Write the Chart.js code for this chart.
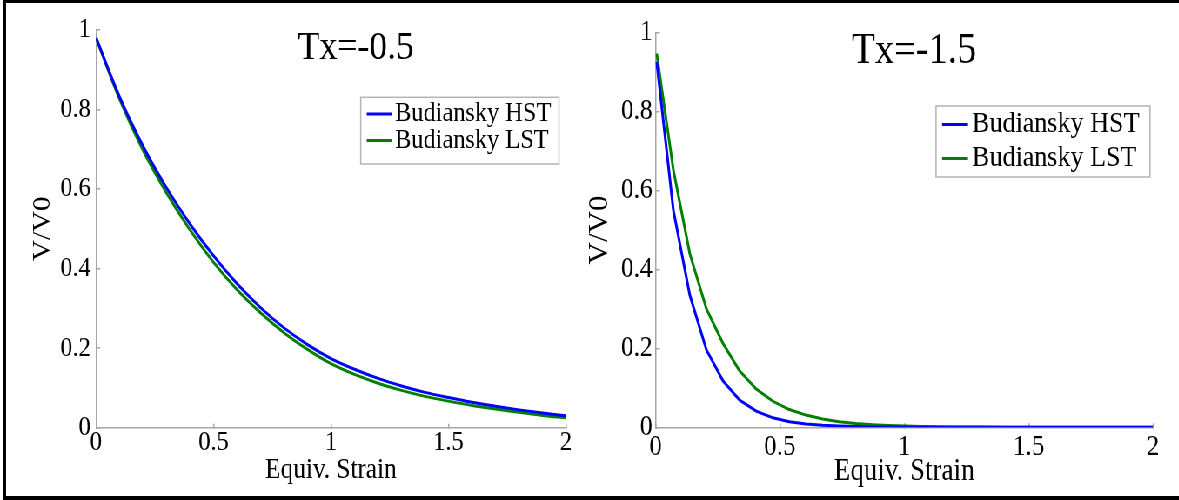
<!DOCTYPE html>
<html>
<head>
<meta charset="utf-8">
<script src="https://cdn.jsdelivr.net/npm/chart.js@4.4.1/dist/chart.umd.min.js"></script>
<style>
  html, body { margin:0; padding:0; background:#fff; overflow:hidden; width:1179px; height:500px; }
  #frame { position:absolute; left:3px; top:0; width:1200px; height:500px; box-sizing:border-box;
           border-left:3px solid #000; border-top:3px solid #000; border-bottom:4px solid #000; }
  #wrap { position:absolute; left:0; top:0; width:1355px; height:500px; transform:scaleX(0.87); transform-origin:0 0; }
  canvas { position:absolute; top:0; }
</style>
</head>
<body>
<div id="frame"></div>
<div id="wrap">
  <canvas id="c1" width="670" height="500" style="left:0px"></canvas>
  <canvas id="c2" width="685" height="500" style="left:670px"></canvas>
</div>
<script>
// ---------- data ----------
const panelTitles = ['Tx=-0.5', 'Tx=-1.5'];
const seriesLabels = ['Budiansky HST', 'Budiansky LST'];
const xAxisLabel = 'Equiv. Strain';
const yAxisLabel = 'V/V0';
const xTickLabels = ['0', '0.5', '1', '1.5', '2'];
const yTickLabels = ['0', '0.2', '0.4', '0.6', '0.8', '1'];

// left panel (Tx=-0.5)
const leftStrain = [0, 0.1, 0.2, 0.3, 0.4, 0.5, 0.6, 0.7, 0.8, 0.9, 1.0,
                    1.1, 1.2, 1.3, 1.4, 1.5, 1.6, 1.7, 1.8, 1.9, 2.0];
const leftHST = [0.98, 0.832, 0.708, 0.603, 0.512, 0.432, 0.362, 0.302, 0.251, 0.209, 0.174,
                 0.147, 0.124, 0.105, 0.089, 0.076, 0.064, 0.054, 0.045, 0.037, 0.030];
const leftLST = [0.98, 0.826, 0.697, 0.590, 0.497, 0.416, 0.347, 0.289, 0.239, 0.197, 0.161,
                 0.134, 0.112, 0.094, 0.079, 0.067, 0.056, 0.047, 0.039, 0.031, 0.025];

// right panel (Tx=-1.5)
const rightStrain = [0.005, 0.072, 0.138, 0.205, 0.272, 0.338, 0.405, 0.472, 0.538, 0.605,
                     0.672, 0.738, 0.805, 0.872, 0.938, 1.005, 1.072, 1.138, 1.205, 1.272,
                     1.338, 1.405, 1.472, 1.538, 1.605, 1.672, 1.738, 1.805, 1.872, 1.938, 2.0];
const rightHST = [0.926, 0.55, 0.335, 0.196, 0.117, 0.069, 0.041, 0.024, 0.014, 0.0085,
                  0.005, 0.003, 0.0018, 0.001, 0.0006, 0.0004, 0.0002, 0.0001, 0.0001, 0,
                  0, 0, 0, 0, 0, 0, 0, 0, 0, 0, 0];
const rightLST = [0.947, 0.652, 0.44, 0.30, 0.212, 0.143, 0.097, 0.066, 0.045, 0.031,
                  0.021, 0.014, 0.0097, 0.0066, 0.0045, 0.003, 0.002, 0.0014, 0.001, 0.0007,
                  0.0005, 0.0003, 0.0002, 0.0001, 0.0001, 0, 0, 0, 0, 0, 0];

const seriesColors = ['#0000ff', '#008000'];

// ---------- chart setup ----------
Chart.defaults.font.family = "'Liberation Serif', 'Times New Roman', serif";
Chart.defaults.color = '#000';
const axisGray = '#a6a6a6';

const overlayPlugin = {
  id: 'overlay',
  afterDraw(chart, args, o) {
    const ctx = chart.ctx;
    ctx.save();
    // panel title
    ctx.fillStyle = '#000';
    ctx.font = o.titleSize + "px 'Liberation Serif', 'Times New Roman', serif";
    ctx.textAlign = 'center';
    ctx.textBaseline = 'middle';
    ctx.fillText(o.title, o.titleX, o.titleY);
    // legend box
    const L = o.legend;
    ctx.fillStyle = '#fff';
    ctx.fillRect(L.x0, L.y0, L.x1 - L.x0, L.y1 - L.y0);
    ctx.strokeStyle = '#b4b4b4';
    ctx.lineWidth = 1.5;
    ctx.strokeRect(L.x0, L.y0, L.x1 - L.x0, L.y1 - L.y0);
    ctx.font = L.size + "px 'Liberation Serif', 'Times New Roman', serif";
    ctx.textAlign = 'left';
    chart.data.datasets.forEach((ds, i) => {
      const y = L.rows[i];
      ctx.strokeStyle = ds.borderColor;
      ctx.lineWidth = 3;
      ctx.beginPath();
      ctx.moveTo(L.lx0, y);
      ctx.lineTo(L.lx1, y);
      ctx.stroke();
      ctx.fillStyle = '#000';
      ctx.fillText(ds.label, L.tx, y);
    });
    ctx.restore();
  }
};

function makeChart(canvasId, xs, hst, lst, cfg) {
  const toXY = (arr) => xs.map((x, i) => ({x: x, y: arr[i]}));
  return new Chart(document.getElementById(canvasId), {
    type: 'line',
    data: {
      datasets: [
        {label: seriesLabels[0], data: toXY(hst), borderColor: seriesColors[0], backgroundColor: seriesColors[0],
         borderWidth: 3, pointRadius: 0, fill: false, cubicInterpolationMode: cfg.smooth ? 'monotone' : 'default'},
        {label: seriesLabels[1], data: toXY(lst), borderColor: seriesColors[1], backgroundColor: seriesColors[1],
         borderWidth: 3, pointRadius: 0, fill: false, cubicInterpolationMode: cfg.smooth ? 'monotone' : 'default'}
      ]
    },
    options: {
      responsive: false,
      animation: false,
      devicePixelRatio: 1,
      events: [],
      layout: {padding: cfg.padding},
      scales: {
        x: {
          type: 'linear', min: 0, max: 2,
          afterBuildTicks: (s) => { s.ticks = xTickLabels.map(t => ({value: parseFloat(t)})); },
          ticks: {callback: (v, i) => xTickLabels[i], font: {size: cfg.tickSize}, color: '#000',
                  padding: cfg.xTickPad, maxRotation: 0, autoSkip: false},
          grid: {display: true, drawOnChartArea: false, drawTicks: true, tickLength: -4, color: axisGray, lineWidth: 1.5},
          border: {display: true, color: axisGray, width: 1.5},
          title: {display: true, text: xAxisLabel, font: {size: cfg.labelSize}, color: '#000', padding: 0},
          afterFit: (s) => { s.height = cfg.xH; }
        },
        y: {
          type: 'linear', min: 0, max: 1,
          afterBuildTicks: (s) => { s.ticks = yTickLabels.map(t => ({value: parseFloat(t)})); },
          ticks: {callback: (v, i) => yTickLabels[i], font: {size: cfg.tickSize}, color: '#000',
                  padding: cfg.yTickPad, autoSkip: false},
          grid: {display: true, drawOnChartArea: false, drawTicks: true, tickLength: -5, color: axisGray, lineWidth: 1.5},
          border: {display: true, color: axisGray, width: 1.5},
          title: {display: true, text: yAxisLabel, font: {size: cfg.labelSize}, color: '#000', padding: 0},
          afterFit: (s) => { s.width = cfg.yW; }
        }
      },
      plugins: {
        legend: {display: false},
        tooltip: {enabled: false},
        overlay: cfg.overlay
      }
    },
    plugins: [overlayPlugin]
  });
}

makeChart('c1', leftStrain, leftHST, leftLST, {
  smooth: true,
  padding: {left: 32, right: 19.4, top: 29.7, bottom: 12.6},
  yW: 78.3, xH: 59.6,
  tickSize: 28, labelSize: 29, xTickPad: 2, yTickPad: 11,
  overlay: {
    title: panelTitles[0], titleSize: 41, titleX: 409, titleY: 48.5,
    legend: {x0: 414.6, y0: 97.3, x1: 642.5, y1: 164, lx0: 421.5, lx1: 450.2, tx: 454,
             rows: [114, 140.5], size: 28}
  }
});

makeChart('c2', rightStrain, rightHST, rightLST, {
  smooth: false,
  padding: {left: 1.1, right: 29.7, top: 32.7, bottom: 9.4},
  yW: 82.3, xH: 63.3,
  tickSize: 29, labelSize: 31, xTickPad: 6.3, yTickPad: 8.3,
  overlay: {
    title: panelTitles[1], titleSize: 44, titleX: 380.6, titleY: 51,
    legend: {x0: 405.9, y0: 106, x1: 651.8, y1: 177, lx0: 412.8, lx1: 442.6, tx: 447.2,
             rows: [124.5, 158.5], size: 30}
  }
});
</script>
</body>
</html>
